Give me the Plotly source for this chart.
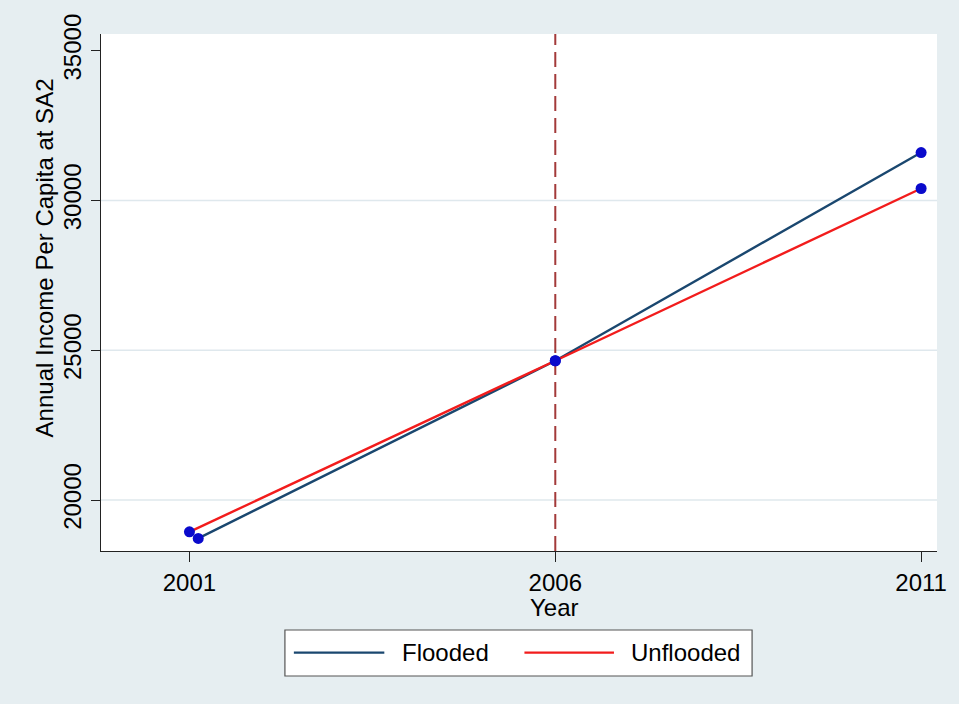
import plotly.graph_objects as go

# Annual income per capita by census year
series_names = ["Flooded", "Unflooded"]
flooded_years = [2001.12, 2006, 2011]
flooded_income = [18720, 24650, 31600]
unflooded_years = [2001, 2006, 2011]
unflooded_income = [18940, 24650, 30400]

x_ticks = [2001, 2006, 2011]
y_ticks = [20000, 25000, 30000, 35000]
grid_values = [20000, 25000, 30000]
event_year = 2006

FONT = "Liberation Sans, Arial, sans-serif"
BG = "#e6eef1"
LINE_COLORS = ["#1a476f", "#f21c1c"]
MARKER_COLOR = "#0a0acc"
FS = 24

fig = go.Figure()
for name, xs, ys, col in [
    (series_names[0], flooded_years, flooded_income, LINE_COLORS[0]),
    (series_names[1], unflooded_years, unflooded_income, LINE_COLORS[1]),
]:
    fig.add_trace(go.Scatter(x=xs, y=ys, mode="lines", name=name,
                             line=dict(color=col, width=2.4), showlegend=False))
for xs, ys in [(flooded_years, flooded_income), (unflooded_years, unflooded_income)]:
    fig.add_trace(go.Scatter(x=xs, y=ys, mode="markers",
                             marker=dict(color=MARKER_COLOR, size=11), showlegend=False))

shapes = []
# horizontal grid lines
for g in grid_values:
    shapes.append(dict(type="line", xref="paper", yref="y", x0=0, x1=1, y0=g, y1=g,
                       line=dict(color="#dfe8ed", width=1.6), layer="below"))
# vertical dashed line at the flood year
shapes.append(dict(type="line", xref="x", yref="paper", x0=event_year, x1=event_year,
                   y0=0, y1=1, line=dict(color="#a33a3a", width=2, dash="15px,7px"),
                   layer="below"))

# legend box
lg_y = -0.1966
shapes.append(dict(type="rect", xref="paper", yref="paper", x0=0.2200, x1=0.7788,
                   y0=-0.2418, y1=-0.1528, fillcolor="white",
                   line=dict(color="#555555", width=1.2)))
legend_items = [(0.2307, 0.3389, 0.3579), (0.5065, 0.6136, 0.6314)]
annotations = []
for (lx0, lx1, tx), name, col in zip(legend_items, series_names, LINE_COLORS):
    shapes.append(dict(type="line", xref="paper", yref="paper", x0=lx0, x1=lx1,
                       y0=lg_y, y1=lg_y, line=dict(color=col, width=2.4)))
    annotations.append(dict(text=name, xref="paper", yref="paper", x=tx, y=lg_y,
                            xanchor="left", yanchor="middle", showarrow=False,
                            font=dict(family=FONT, size=FS, color="black")))

# axis titles
annotations.append(dict(text="Year", xref="paper", yref="paper", x=0.543, y=-0.109,
                        xanchor="center", yanchor="middle", showarrow=False,
                        font=dict(family=FONT, size=FS, color="black")))
annotations.append(dict(text="Annual Income Per Capita at SA2", xref="paper", yref="paper",
                        x=-0.0678, y=0.5666, xanchor="center", yanchor="middle",
                        textangle=-90, showarrow=False,
                        font=dict(family=FONT, size=FS, color="black")))

fig.update_layout(
    width=959, height=704,
    margin=dict(l=101, r=17, t=34, b=153),
    paper_bgcolor=BG, plot_bgcolor="white",
    font=dict(family=FONT, size=FS, color="black"),
    shapes=shapes, annotations=annotations,
    xaxis=dict(range=[1999.791, 2011.217], tickvals=x_ticks,
               ticktext=[str(v) for v in x_ticks], showgrid=False, zeroline=False,
               showline=True, linecolor="#222222", linewidth=1,
               ticks="outside", ticklen=10, tickcolor="#222222",
               tickfont=dict(family=FONT, size=FS, color="black")),
    yaxis=dict(range=[18300, 35557], tickvals=y_ticks,
               ticktext=[str(v) for v in y_ticks], showgrid=False, zeroline=False,
               showline=True, linecolor="#222222", linewidth=1,
               ticks="outside", ticklen=9, tickcolor="#222222", tickangle=-90,
               tickfont=dict(family=FONT, size=FS, color="black")),
)

fig.write_html("out.html")
